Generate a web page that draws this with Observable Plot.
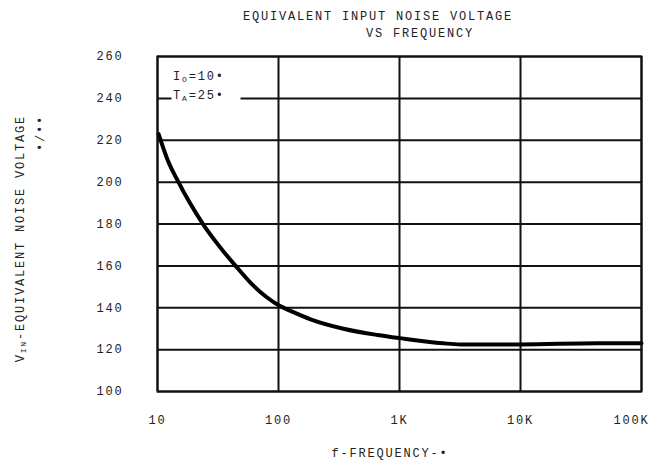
<!DOCTYPE html>
<html><head><meta charset="utf-8">
<script src="https://cdn.jsdelivr.net/npm/d3@7"></script>
<script src="https://cdn.jsdelivr.net/npm/@observablehq/plot@0.6"></script>
<style>
body{margin:0;background:#fff;}
#chart svg text{letter-spacing:1.8px;}
</style></head><body><div id="chart"></div>
<script>
// Curve
const freq  = [10.2, 12.1, 14.9, 18.75, 24, 31.3, 44.2, 58.6, 80, 102, 125.6, 184, 344, 658, 1000, 2300, 3200, 10000, 43500, 100000];
const noise = [223, 210.7, 200, 189.5, 179.6, 170.5, 160, 152, 145, 140.9, 138.5, 134.5, 130, 127, 125.5, 123, 122.5, 122.5, 123, 123];
const xTicks = [10, 100, 1000, 10000, 100000];
const xTickLabels = ["10", "100", "1K", "10K", "100K"];
const yTicks = [100, 120, 140, 160, 180, 200, 220, 240, 260];
const titleLines = ["EQUIVALENT INPUT NOISE VOLTAGE", "VS FREQUENCY"];
const xLabel = "f-FREQUENCY-•";
const yLabel = ["V", "IN", "-EQUIVALENT NOISE VOLTAGE"];
const yUnit = "•/••";
const legendRows = [["I", "O", "=10•"], ["T", "A", "=25•"]];

const data = freq.map((f, i) => ({f, v: noise[i]}));
const ink = "#222";

const plot = Plot.plot({
  width: 649, height: 465,
  marginLeft: 157, marginRight: 8, marginTop: 56, marginBottom: 74,
  style: {fontFamily: "Liberation Mono", fontSize: "12px", color: ink, background: "#fff"},
  x: {type: "log", domain: [10, 100000], axis: null},
  y: {domain: [100, 260], axis: null},
  marks: [
    Plot.ruleX(xTicks, {x: d => d, stroke: "#111", strokeWidth: 2}),
    Plot.ruleY(yTicks, {y: d => d, stroke: "#111", strokeWidth: 2}),
    Plot.frame({fill: "white", stroke: null, insetLeft: 14, insetRight: 401, insetTop: 12, insetBottom: 288}),
    Plot.line(data, {x: "f", y: "v", stroke: "#000", strokeWidth: 4, curve: "monotone-x"}),
    Plot.frame({stroke: "#111", strokeWidth: 2}),
    Plot.text(xTicks.slice(0, 4), {x: d => d, text: (d, i) => xTickLabels[i], frameAnchor: "bottom", dy: 32, fill: ink}),
    Plot.text(xTicks.slice(4), {x: d => d, text: (d, i) => xTickLabels[4 + i], frameAnchor: "bottom", dy: 32, dx: -10, fill: ink}),
    Plot.text(yTicks, {y: d => d, text: d => String(d), frameAnchor: "left", dx: -34, textAnchor: "end", fill: ink})
  ]
});
document.getElementById("chart").appendChild(plot);

const svg = d3.select(plot);
svg.append("text").attr("x", 378).attr("y", 19.5).attr("text-anchor", "middle").attr("fill", ink).text(titleLines[0]);
svg.append("text").attr("x", 420).attr("y", 37).attr("text-anchor", "middle").attr("fill", ink).text(titleLines[1]);
svg.append("text").attr("x", 390).attr("y", 457).attr("text-anchor", "middle").attr("fill", ink).text(xLabel);

const yl = svg.append("text").attr("transform", "translate(24,115) rotate(-90)").attr("text-anchor", "end").attr("fill", ink);
yl.append("tspan").text(yLabel[0]);
yl.append("tspan").attr("font-size", "8px").attr("dy", 2).text(yLabel[1]);
yl.append("tspan").attr("dy", -2).text(yLabel[2]);
svg.append("text").attr("transform", "translate(44,115) rotate(-90)").attr("text-anchor", "end").attr("fill", ink).text(yUnit);

legendRows.forEach((r, i) => {
  const t = svg.append("text").attr("x", 173).attr("y", 80 + i * 19).attr("text-anchor", "start").attr("fill", ink);
  t.append("tspan").text(r[0]);
  t.append("tspan").attr("font-size", "8px").attr("dy", 2).text(r[1]);
  t.append("tspan").attr("dy", -2).text(r[2]);
});
</script></body></html>
